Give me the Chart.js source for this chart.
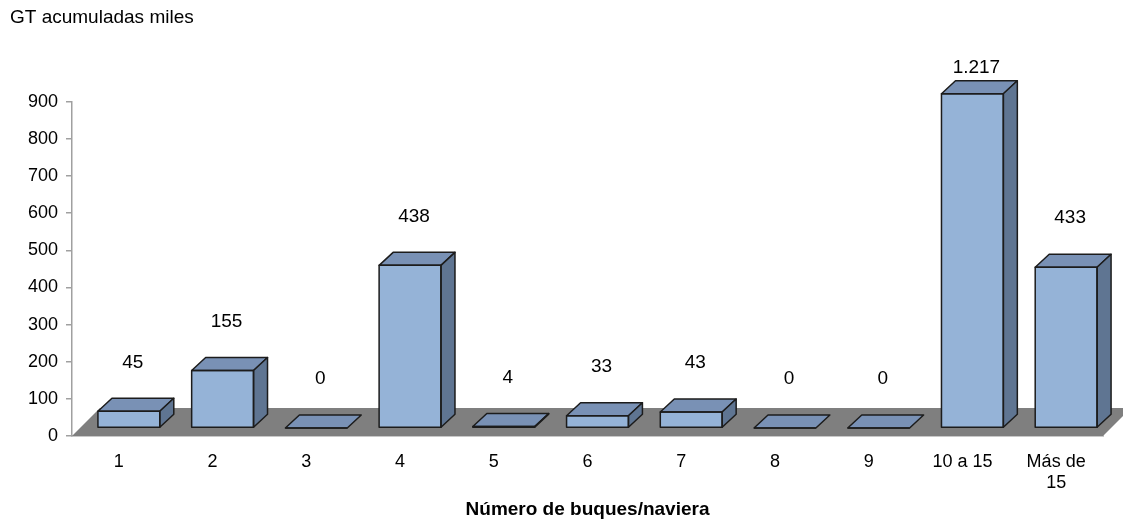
<!DOCTYPE html>
<html>
<head>
<meta charset="utf-8">
<script src="https://cdn.jsdelivr.net/npm/chart.js@4/dist/chart.umd.min.js"></script>
<style>
  html, body { margin: 0; padding: 0; background: #fff; }
  #wrap { width: 1123px; height: 525px; }
</style>
</head>
<body>
<div id="wrap"><canvas id="c" width="1123" height="525"></canvas></div>
<script>
// Gross tonnage accumulated (thousands) by number of ships per shipping line
const categories = ['1', '2', '3', '4', '5', '6', '7', '8', '9', '10 a 15', ['Más de', '15']];
const gtMiles = [45, 155, 0, 438, 4, 33, 43, 0, 0, 1217, 433];
const yTicks = [0, 100, 200, 300, 400, 500, 600, 700, 800, 900];

const FONT = "'Liberation Sans', Arial, sans-serif";
const FRONT = '#95B3D7', TOP = '#7991B5', SIDE = '#5F7592', EDGE = '#1c1c1c';
const DEPTH_X = 14, DEPTH_Y = 13;      // bar depth
const SHIFT_X = 10, SHIFT_Y = -8;      // bars stand mid-way on the floor
const FLOOR_X = 28, FLOOR_Y = 28;      // floor depth

const fmt = v => String(v).replace(/\B(?=(\d{3})+(?!\d))/g, '.');

const floorAndBoxes = {
  id: 'floorAndBoxes',
  beforeDatasetsDraw(chart) {
    const { ctx, chartArea: a } = chart;
    ctx.save();
    ctx.fillStyle = '#7f7f7f';
    ctx.beginPath();
    ctx.moveTo(a.left, a.bottom);
    ctx.lineTo(a.right, a.bottom);
    ctx.lineTo(a.right + FLOOR_X, a.bottom - FLOOR_Y);
    ctx.lineTo(a.left + FLOOR_X, a.bottom - FLOOR_Y);
    ctx.closePath();
    ctx.fill();
    ctx.restore();
    ctx.save();
    ctx.translate(SHIFT_X, SHIFT_Y);
  },
  afterDatasetsDraw(chart) {
    const { ctx, chartArea: a } = chart;
    const meta = chart.getDatasetMeta(0);
    ctx.lineWidth = 1.5;
    ctx.strokeStyle = EDGE;
    ctx.lineJoin = 'round';
    meta.data.forEach((bar) => {
      const p = bar.getProps(['x', 'y', 'base', 'width'], true);
      const l = p.x - p.width / 2, r = p.x + p.width / 2;
      const top = Math.max(Math.min(p.y, p.base), a.top);
      const bot = p.base;
      // top face
      ctx.fillStyle = TOP;
      ctx.beginPath();
      ctx.moveTo(l, top);
      ctx.lineTo(l + DEPTH_X, top - DEPTH_Y);
      ctx.lineTo(r + DEPTH_X, top - DEPTH_Y);
      ctx.lineTo(r, top);
      ctx.closePath();
      ctx.fill();
      ctx.stroke();
      // side face
      if (bot - top > 0.5) {
        ctx.fillStyle = SIDE;
        ctx.beginPath();
        ctx.moveTo(r, top);
        ctx.lineTo(r + DEPTH_X, top - DEPTH_Y);
        ctx.lineTo(r + DEPTH_X, bot - DEPTH_Y);
        ctx.lineTo(r, bot);
        ctx.closePath();
        ctx.fill();
        ctx.stroke();
        // front outline (also closes the clipped top edge)
        ctx.strokeRect(l, top, r - l, bot - top);
      } else {
        ctx.beginPath();
        ctx.moveTo(l, bot);
        ctx.lineTo(r, bot);
        ctx.stroke();
      }
    });
    ctx.restore();

    // value labels
    const max = chart.scales.y.max;
    ctx.save();
    ctx.fillStyle = '#000';
    ctx.font = '19px ' + FONT;
    ctx.textAlign = 'center';
    ctx.textBaseline = 'middle';
    meta.data.forEach((bar, i) => {
      const v = gtMiles[i];
      const p = bar.getProps(['x', 'y'], true);
      const cx = p.x + SHIFT_X + 4;
      let cy;
      if (v > max) cy = a.top - 34;
      else cy = p.y + SHIFT_Y - DEPTH_Y - 36;
      ctx.fillText(fmt(v), cx, cy);
    });
    ctx.restore();
  }
};

new Chart(document.getElementById('c'), {
  type: 'bar',
  data: {
    labels: categories,
    datasets: [{
      data: gtMiles,
      backgroundColor: FRONT,
      borderColor: EDGE,
      borderWidth: 0,
      categoryPercentage: 1,
      barPercentage: 0.66
    }]
  },
  options: {
    responsive: false,
    animation: false,
    events: [],
    layout: { padding: { top: 5, left: 10, right: 20, bottom: 0 } },
    plugins: {
      legend: { display: false },
      tooltip: { enabled: false },
      title: {
        display: true,
        text: 'GT acumuladas miles',
        align: 'start',
        color: '#000',
        font: { family: FONT, size: 19, weight: 'normal' },
        padding: { top: 1, bottom: 73 }
      }
    },
    scales: {
      x: {
        grid: { display: false },
        border: { display: true, color: '#c8c8c8', width: 2 },
        ticks: {
          color: '#000',
          font: { family: FONT, size: 18, lineHeight: 1.2 },
          padding: 7,
          maxRotation: 0,
          autoSkip: false
        },
        title: {
          display: true,
          text: 'Número de buques/naviera',
          color: '#000',
          font: { family: FONT, size: 19, weight: 'bold' },
          padding: { top: 0, bottom: 4 }
        },
        afterFit(axis) { axis.height = 89; }
      },
      y: {
        min: 0,
        max: 900,
        afterBuildTicks(axis) { axis.ticks = yTicks.map(v => ({ value: v })); },
        grid: { drawOnChartArea: false, drawTicks: true, tickLength: 6, color: '#a0a0a0', lineWidth: 1.5 },
        border: { display: true, color: '#a0a0a0', width: 1.5 },
        ticks: {
          color: '#000',
          font: { family: FONT, size: 18 },
          padding: 8
        },
        afterFit(axis) { axis.width = 62; }
      }
    }
  },
  plugins: [floorAndBoxes]
});
</script>
</body>
</html>
